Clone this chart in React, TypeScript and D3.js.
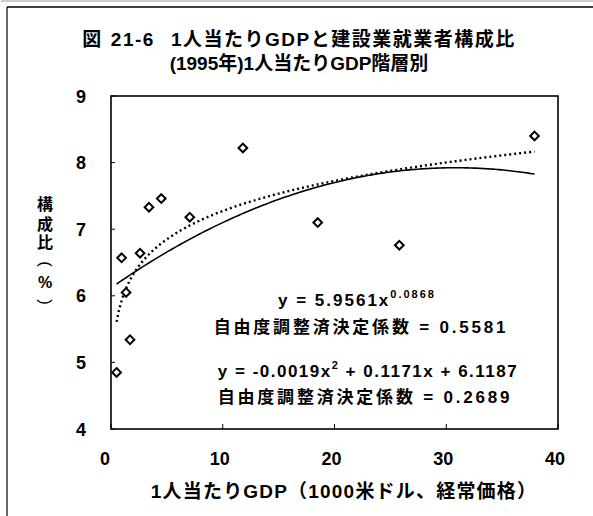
import * as d3 from 'd3'

// 1人当たりGDP (1000米ドル) と 建設業就業者構成比 (%)
const gdp = [0.5, 0.95, 1.35, 1.7, 2.6, 3.4, 4.5, 7.05, 11.8, 18.5, 25.8, 37.9]
const share = [4.85, 6.57, 6.05, 5.34, 6.64, 7.33, 7.46, 7.18, 8.22, 7.1, 6.76, 8.4]

// 近似曲線の係数
const powCoef = [5.9561, 0.0868]
const polyCoef = [-0.0019, 0.1171, 6.1187]

const xTicks = [0, 10, 20, 30, 40]
const yTicks = [4, 5, 6, 7, 8, 9]

const W = 593
const H = 516
const plot = { left: 111, right: 558, top: 96, bottom: 429 }
const FONT = '"Liberation Sans", Arial, "Noto Sans CJK JP", sans-serif'

export default function App() {
  const x = d3.scaleLinear().domain([0, 40]).range([plot.left, plot.right])
  const y = d3.scaleLinear().domain([4, 9]).range([plot.bottom, plot.top])

  const xMin = d3.min(gdp) as number
  const xMax = d3.max(gdp) as number
  const fitX = d3.range(0, 201).map(i => xMin + (xMax - xMin) * (i / 200))

  const line = d3.line<[number, number]>().x(d => x(d[0])).y(d => y(d[1]))
  const powPath = line(fitX.map(v => [v, powCoef[0] * Math.pow(v, powCoef[1])]))
  const polyPath = line(fitX.map(v => [v, polyCoef[0] * v * v + polyCoef[1] * v + polyCoef[2]]))

  const diamond = d3.symbol().type(d3.symbolDiamond2).size(48)()

  // 縦書きの軸ラベル (括弧は回転して描く)
  const yLabel = ['構', '成', '比', '(', '%', ')']
  const yLabelC = [204, 223.5, 242, 264, 282, 302]
  const lx = 45

  return (
    <svg width={W} height={H} style={{ position: 'absolute', left: 0, top: 0, background: '#fff' }}
      fontFamily={FONT} fontWeight="bold">
      {/* 外枠 */}
      <line x1={7} y1={7} x2={W} y2={7} stroke="#000" strokeWidth={1.5} />
      <line x1={1} y1={1} x2={W} y2={1} stroke="#999" strokeWidth={1} />
      <line x1={7} y1={7} x2={7} y2={H} stroke="#000" strokeWidth={1.2} />

      <text x={299} y={46} textAnchor="middle" fontSize={19} letterSpacing={1.5}>
        図<tspan dx={8}>21-6</tspan><tspan dx={16}>1人当たりGDPと建設業就業者構成比</tspan>
      </text>
      <text x={299} y={70} textAnchor="middle" fontSize={19}>(1995年)1人当たりGDP階層別</text>

      <rect x={plot.left} y={plot.top} width={plot.right - plot.left} height={plot.bottom - plot.top}
        fill="none" stroke="#000" strokeWidth={1.6} />

      {yTicks.map(t => (
        <g key={'y' + t}>
          <line x1={plot.left} x2={plot.left + 4} y1={y(t)} y2={y(t)} stroke="#000" strokeWidth={1} />
          <text x={86} y={y(t) + 6.5} textAnchor="end" fontSize={18}>{t}</text>
        </g>
      ))}
      {xTicks.map(t => (
        <g key={'x' + t}>
          <line x1={x(t)} x2={x(t)} y1={plot.bottom} y2={plot.bottom - 5} stroke="#000" strokeWidth={1} />
          <text x={x(t) - (t === 0 ? 6 : 3)} y={465} textAnchor="middle" fontSize={18}>{t}</text>
        </g>
      ))}

      <text x={344} y={498} textAnchor="middle" fontSize={19} letterSpacing={1.2}>1人当たりGDP（1000米ドル、経常価格）</text>

      {yLabel.map((c, i) => {
        const paren = c === '(' || c === ')'
        return paren ? (
          <text key={i} x={lx} y={yLabelC[i] + 5} textAnchor="middle" fontSize={17} fontWeight="normal"
            transform={`rotate(90, ${lx}, ${yLabelC[i]})`}>{c}</text>
        ) : (
          <text key={i} x={lx} y={yLabelC[i] + 6} textAnchor="middle" fontSize={16}>{c}</text>
        )
      })}

      <path d={polyPath ?? ''} fill="none" stroke="#000" strokeWidth={1.6} />
      <path d={powPath ?? ''} fill="none" stroke="#000" strokeWidth={2.4} strokeDasharray="2,3" />

      {gdp.map((g, i) => (
        <path key={i} d={diamond ?? ''} transform={`translate(${x(g)},${y(share[i])})`}
          fill="#fff" stroke="#000" strokeWidth={2} />
      ))}

      <text x={357} y={306} textAnchor="middle" fontSize={17} letterSpacing={2}>
        y = 5.9561x<tspan dy={-8} fontSize={11}>0.0868</tspan>
      </text>
      <text x={361} y={333} textAnchor="middle" fontSize={17} letterSpacing={2.8}>自由度調整済決定係数 = 0.5581</text>
      <text x={368} y={377} textAnchor="middle" fontSize={17} letterSpacing={1.5}>
        y = -0.0019x<tspan dy={-8} fontSize={11}>2</tspan><tspan dy={8}> + 0.1171x + 6.1187</tspan>
      </text>
      <text x={365} y={403} textAnchor="middle" fontSize={17} letterSpacing={2.8}>自由度調整済決定係数 = 0.2689</text>
    </svg>
  )
}
